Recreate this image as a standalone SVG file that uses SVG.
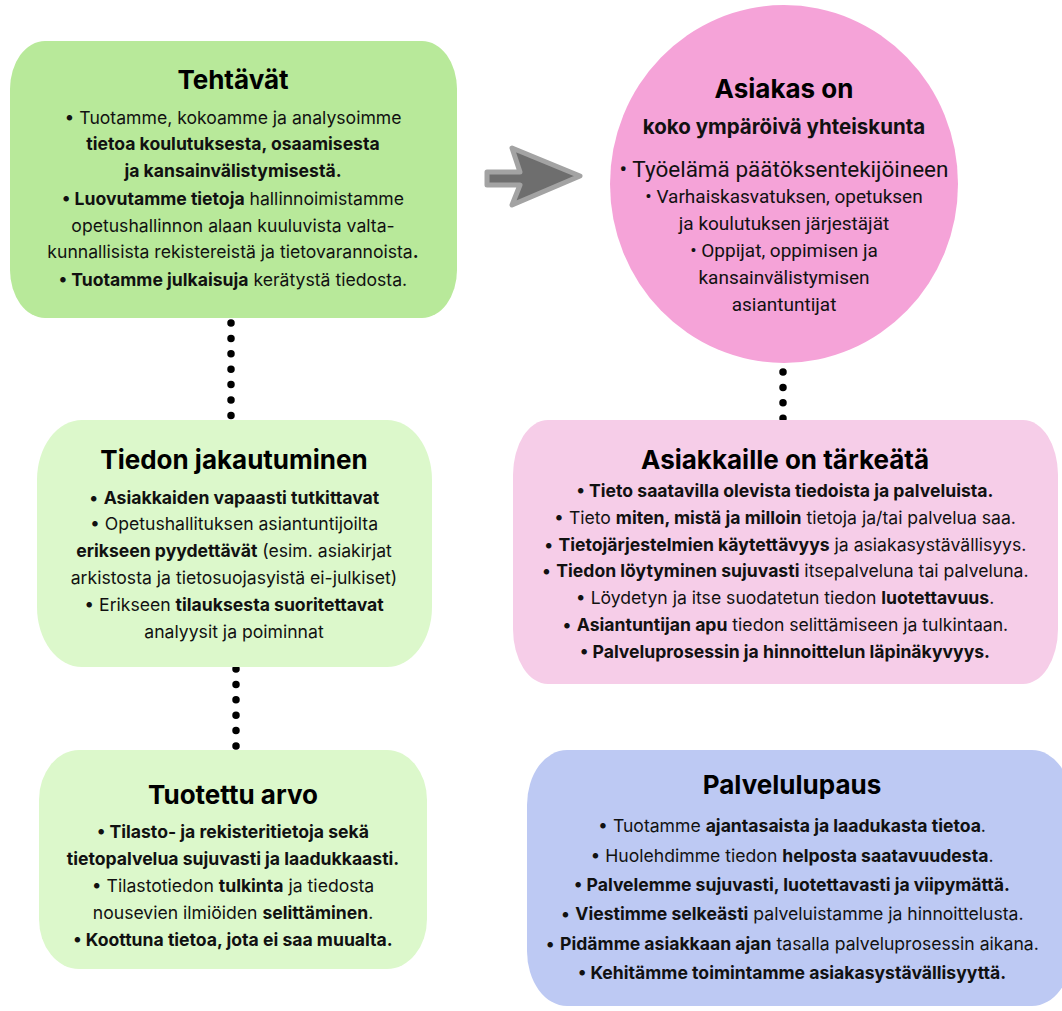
<svg xmlns="http://www.w3.org/2000/svg" width="1062" height="1011" viewBox="0 0 1062 1011">
<style>
text{font-family:Inter,"Noto Sans","Liberation Sans",sans-serif;fill:#111;text-anchor:middle}
.t{font-size:26px;font-weight:700;fill:#000}
.b{font-size:17.6px}
.r{font-family:Roboto,"Liberation Sans",sans-serif}
.k{font-weight:700}
.dots{fill:none;stroke:#000;stroke-width:7.5;stroke-linecap:round}
</style>
<rect width="1062" height="1011" fill="#fff"/>
<g id="connectors">
<path class="dots" d="M231,323V416" stroke-dasharray="0 15.4"/>
<path class="dots" d="M236,669V747" stroke-dasharray="0 15.4"/>
<path class="dots" d="M783,372V420" stroke-dasharray="0 15.4"/>
<polygon points="487,172 520,172 512,148 580,176 512,205 520,185 487,185" fill="#6e6e6e" stroke="#a3a3a3" stroke-width="5" stroke-linejoin="round"/>
</g>
<g id="tehtavat">
<rect x="10" y="41" width="447" height="277" rx="35" ry="48" fill="#b8e99a"/>
<text class="t" x="233" y="89">Tehtävät</text>
<text class="b" x="233" y="124">• Tuotamme, kokoamme ja analysoimme</text>
<text class="b k" x="233" y="150">tietoa koulutuksesta, osaamisesta</text>
<text class="b k" x="233" y="177">ja kansainvälistymisestä.</text>
<text class="b" x="233" y="205"><tspan class="k">• Luovutamme tietoja</tspan> hallinnoimistamme</text>
<text class="b" x="233" y="232">opetushallinnon alaan kuuluvista valta-</text>
<text class="b" x="233" y="258">kunnallisista rekistereistä ja tietovarannoista<tspan class="k">.</tspan></text>
<text class="b" x="233" y="286"><tspan class="k">• Tuotamme julkaisuja</tspan> kerätystä tiedosta.</text>
</g>
<g id="asiakas">
<ellipse cx="784" cy="184" rx="174" ry="179" fill="#f5a3d8"/>
<text class="t" x="784" y="98">Asiakas on</text>
<text class="k" x="784" y="134" style="font-size:20.5px">koko ympäröivä yhteiskunta</text>
<text class="r" x="784" y="177" style="font-size:22.5px">• Työelämä päätöksentekijöineen</text>
<text class="r" x="784" y="203" style="font-size:19px">• Varhaiskasvatuksen, opetuksen</text>
<text class="r" x="784" y="230" style="font-size:19px">ja koulutuksen järjestäjät</text>
<text class="r" x="784" y="257" style="font-size:19px">• Oppijat, oppimisen ja</text>
<text class="r" x="784" y="284" style="font-size:19px">kansainvälistymisen</text>
<text class="r" x="784" y="311" style="font-size:19px">asiantuntijat</text>
</g>
<g id="tiedon">
<rect x="37" y="420" width="395" height="247" rx="45" ry="60" fill="#dcf8cb"/>
<text class="t" x="234" y="469">Tiedon jakautuminen</text>
<text class="b" x="234" y="504">• <tspan class="k">Asiakkaiden vapaasti tutkittavat</tspan></text>
<text class="b" x="234" y="530">• Opetushallituksen asiantuntijoilta</text>
<text class="b" x="234" y="557"><tspan class="k">erikseen pyydettävät</tspan> (esim. asiakirjat</text>
<text class="b" x="234" y="584">arkistosta ja tietosuojasyistä ei-julkiset)</text>
<text class="b" x="234" y="611">• Erikseen <tspan class="k">tilauksesta suoritettavat</tspan></text>
<text class="b" x="234" y="638">analyysit ja poiminnat</text>
</g>
<g id="tarkeata">
<rect x="513" y="420" width="545" height="264" rx="35" ry="55" fill="#f6cde8"/>
<text class="t" x="785" y="469">Asiakkaille on tärkeätä</text>
<text class="b k" x="785" y="497">• Tieto saatavilla olevista tiedoista ja palveluista.</text>
<text class="b" x="785" y="524">• Tieto <tspan class="k">miten, mistä ja milloin</tspan> tietoja ja/tai palvelua saa.</text>
<text class="b" x="785" y="551">• <tspan class="k">Tietojärjestelmien käytettävyys</tspan> ja asiakasystävällisyys.</text>
<text class="b" x="785" y="577">• <tspan class="k">Tiedon löytyminen sujuvasti</tspan> itsepalveluna tai palveluna.</text>
<text class="b" x="785" y="604">• Löydetyn ja itse suodatetun tiedon <tspan class="k">luotettavuus</tspan>.</text>
<text class="b" x="785" y="631">• <tspan class="k">Asiantuntijan apu</tspan> tiedon selittämiseen ja tulkintaan.</text>
<text class="b k" x="785" y="658">• Palveluprosessin ja hinnoittelun läpinäkyvyys.</text>
</g>
<g id="tuotettu">
<rect x="39" y="750" width="388" height="219" rx="40" ry="50" fill="#dcf8cb"/>
<text class="t" x="233" y="804">Tuotettu arvo</text>
<text class="b k" x="233" y="838">• Tilasto- ja rekisteritietoja sekä</text>
<text class="b k" x="233" y="865">tietopalvelua sujuvasti ja laadukkaasti.</text>
<text class="b" x="233" y="892">• Tilastotiedon <tspan class="k">tulkinta</tspan> ja tiedosta</text>
<text class="b" x="233" y="919">nousevien ilmiöiden <tspan class="k">selittäminen</tspan>.</text>
<text class="b k" x="233" y="946">• Koottuna tietoa, jota ei saa muualta.</text>
</g>
<g id="palvelulupaus">
<rect x="527" y="750" width="545" height="256" rx="40" ry="55" fill="#bdc9f3"/>
<text class="t" x="792" y="794">Palvelulupaus</text>
<text class="b" x="792" y="832">• Tuotamme <tspan class="k">ajantasaista ja laadukasta tietoa</tspan>.</text>
<text class="b" x="792" y="862">• Huolehdimme tiedon <tspan class="k">helposta saatavuudesta</tspan>.</text>
<text class="b k" x="792" y="891">• Palvelemme sujuvasti, luotettavasti ja viipymättä.</text>
<text class="b" x="792" y="920">• <tspan class="k">Viestimme selkeästi</tspan> palveluistamme ja hinnoittelusta.</text>
<text class="b" x="792" y="950">• <tspan class="k">Pidämme asiakkaan ajan</tspan> tasalla palveluprosessin aikana.</text>
<text class="b k" x="792" y="979">• Kehitämme toimintamme asiakasystävällisyyttä.</text>
</g>
</svg>
